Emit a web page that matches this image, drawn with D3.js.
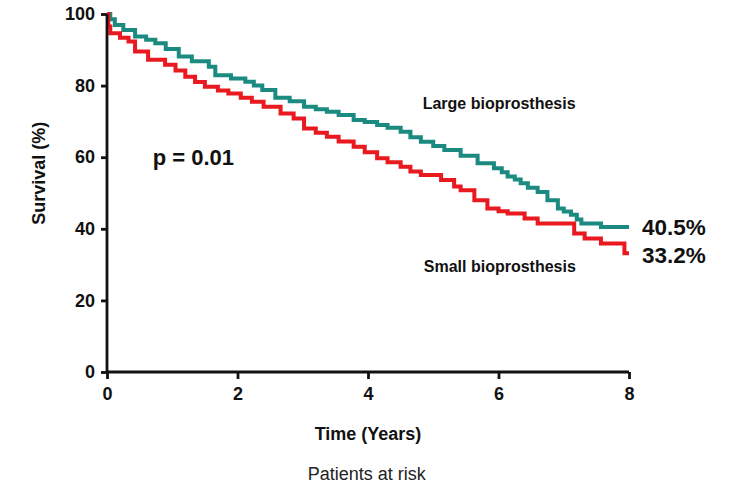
<!DOCTYPE html>
<html>
<head>
<meta charset="utf-8">
<script src="https://cdn.jsdelivr.net/npm/d3@7"></script>
<style>
	body { margin: 0; background: #fff; }
	text { font-family: 'Liberation Sans', Arial, sans-serif; }
</style>
</head>
<body>
<div id="chart"></div>
<script>
// Kaplan-Meier curves, values (years, % survival)
const largeTime = [0, 0.05, 0.12, 0.25, 0.43, 0.6, 0.74, 0.9, 1.1, 1.3, 1.56, 1.66, 1.9, 2.12, 2.25, 2.38, 2.58, 2.8, 3.02, 3.2, 3.37, 3.55, 3.78, 3.95, 4.14, 4.3, 4.5, 4.65, 4.81, 5.0, 5.17, 5.42, 5.68, 5.93, 6.05, 6.14, 6.25, 6.34, 6.45, 6.6, 6.75, 6.91, 7.0, 7.11, 7.2, 7.27, 7.57, 8.0]
const largeSurv = [100, 98.5, 96.9, 95.5, 93.7, 92.8, 91.8, 90.2, 88.1, 86.8, 85.3, 82.9, 82.0, 81.1, 80.0, 78.8, 76.6, 75.6, 74.1, 73.4, 72.7, 71.8, 70.4, 69.8, 69.0, 68.2, 67.1, 65.6, 64.3, 63.1, 62.0, 60.4, 58.3, 56.9, 55.8, 54.6, 53.8, 52.7, 51.5, 50.3, 48.0, 45.7, 44.8, 43.9, 42.6, 41.5, 40.5, 40.5]

const smallTime = [0, 0.02, 0.05, 0.2, 0.33, 0.43, 0.63, 0.89, 1.05, 1.2, 1.35, 1.5, 1.7, 1.86, 2.05, 2.22, 2.4, 2.66, 2.86, 3.02, 3.2, 3.37, 3.55, 3.78, 3.95, 4.14, 4.3, 4.5, 4.65, 4.81, 5.12, 5.32, 5.42, 5.63, 5.83, 6.0, 6.14, 6.4, 6.6, 7.06, 7.16, 7.32, 7.57, 7.9, 7.93, 8.0]
const smallSurv = [100, 96.5, 94.6, 93.4, 92.3, 89.5, 87.2, 85.8, 84.2, 82.5, 81.0, 79.7, 78.6, 77.8, 76.6, 75.5, 74.1, 72.2, 70.8, 68.0, 66.8, 65.7, 64.4, 62.9, 61.4, 59.7, 58.6, 57.3, 56.0, 55.0, 53.6, 51.8, 50.8, 48.0, 45.7, 44.9, 44.3, 42.9, 41.5, 41.5, 38.7, 37.3, 35.9, 35.9, 33.2, 33.2]

const xTicks = [0, 2, 4, 6, 8]
const yTicks = [0, 20, 40, 60, 80, 100]

const margin = ({ top: 14, right: 102, bottom: 117, left: 107 })
const width = 731 - margin.left - margin.right
const height = 489 - margin.top - margin.bottom

const large = largeTime.map((t, i) => ({ t, s: largeSurv[i] }))
const small = smallTime.map((t, i) => ({ t, s: smallSurv[i] }))

const svg = d3.select('#chart')
	.append('svg')
	.attr('width', 731)
	.attr('height', 489)
	.append('g')
	.attr('transform', `translate(${margin.left},${margin.top})`)

const xScale = d3.scaleLinear()
	.domain([0, 8])
	.range([0, width])

const yScale = d3.scaleLinear()
	.domain([0, 100])
	.range([height, 0])

const line = d3.line()
	.curve(d3.curveStepAfter)
	.x(d => xScale(d.t))
	.y(d => yScale(d.s))

svg.append('path')
	.datum(large)
	.attr('fill', 'none')
	.attr('stroke', '#1b8a80')
	.attr('stroke-width', 4)
	.attr('d', line)

svg.append('path')
	.datum(small)
	.attr('fill', 'none')
	.attr('stroke', '#e8191f')
	.attr('stroke-width', 4)
	.attr('d', line)

const xAxis = svg.append('g')
	.attr('transform', `translate(0,${height})`)
	.call(d3.axisBottom(xScale).tickValues(xTicks).tickSize(7).tickPadding(8))

const yAxis = svg.append('g')
	.call(d3.axisLeft(yScale).tickValues(yTicks).tickSize(6).tickPadding(6))

for (const g of [xAxis, yAxis]) {
	g.selectAll('.domain, .tick line')
		.attr('stroke', '#111')
		.attr('stroke-width', 2.8)
	g.select('.domain').attr('d', g === xAxis ? `M0,0H${width}` : `M0,0V${height}`)
	g.selectAll('.tick text')
		.attr('font-family', "'Liberation Sans', Arial, sans-serif")
		.attr('font-size', 18)
		.attr('font-weight', 'bold')
		.attr('fill', '#111')
}

svg.append('text')
	.attr('x', xScale(4))
	.attr('y', height + 68)
	.attr('text-anchor', 'middle')
	.attr('font-size', 18)
	.attr('font-weight', 'bold')
	.attr('fill', '#111')
	.text('Time (Years)')

svg.append('text')
	.attr('x', xScale(3.98))
	.attr('y', height + 108)
	.attr('text-anchor', 'middle')
	.attr('font-size', 18)
	.attr('fill', '#222')
	.text('Patients at risk')

svg.append('text')
	.attr('transform', `translate(${-62},${yScale(55.5)}) rotate(-90)`)
	.attr('text-anchor', 'middle')
	.attr('font-size', 18)
	.attr('font-weight', 'bold')
	.attr('fill', '#111')
	.text('Survival (%)')

svg.append('text')
	.attr('x', xScale(0.7))
	.attr('y', yScale(57.8))
	.attr('font-size', 22)
	.attr('font-weight', 'bold')
	.attr('fill', '#111')
	.text('p = 0.01')

svg.append('text')
	.attr('x', xScale(6.01))
	.attr('y', yScale(73.5))
	.attr('text-anchor', 'middle')
	.attr('font-size', 16)
	.attr('font-weight', 'bold')
	.attr('fill', '#111')
	.text('Large bioprosthesis')

svg.append('text')
	.attr('x', xScale(6.02))
	.attr('y', yScale(27.9))
	.attr('text-anchor', 'middle')
	.attr('font-size', 16)
	.attr('font-weight', 'bold')
	.attr('fill', '#111')
	.text('Small bioprosthesis')

svg.append('text')
	.attr('x', xScale(8.2))
	.attr('y', yScale(38.3))
	.attr('font-size', 22.5)
	.attr('font-weight', 'bold')
	.attr('fill', '#111')
	.text('40.5%')

svg.append('text')
	.attr('x', xScale(8.2))
	.attr('y', yScale(30.4))
	.attr('font-size', 22.5)
	.attr('font-weight', 'bold')
	.attr('fill', '#111')
	.text('33.2%')
</script>
</body>
</html>
